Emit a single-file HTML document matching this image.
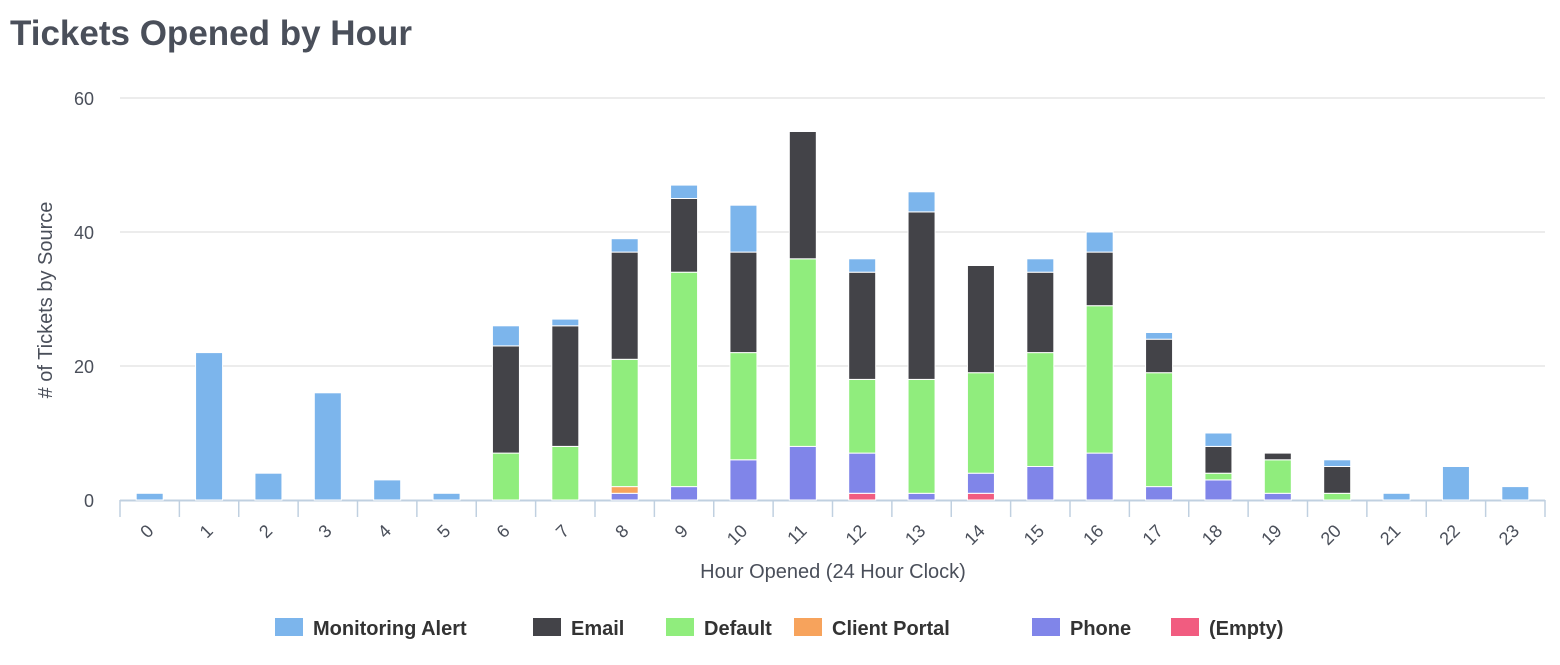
<!DOCTYPE html>
<html><head><style>
body{margin:0;background:#fff;width:1560px;height:660px;overflow:hidden;font-family:"Liberation Sans",sans-serif}
</style></head><body>
<svg id="c" width="1560" height="660" xmlns="http://www.w3.org/2000/svg">
<text x="10" y="45" font-size="35" font-weight="bold" fill="#4a4f5a" font-family="Liberation Sans, sans-serif">Tickets Opened by Hour</text>
</svg>
<script>
const s=document.getElementById('c'),NS='http://www.w3.org/2000/svg';
function el(t,a,txt){const e=document.createElementNS(NS,t);for(const k in a)e.setAttribute(k,a[k]);if(txt!==undefined)e.textContent=txt;s.appendChild(e);return e;}
const y0=500,u=6.7,x0=120,cw=59.375;
[20,40,60].forEach(v=>el('line',{x1:120,x2:1545,y1:y0-v*u,y2:y0-v*u,stroke:'#d8d8d8','stroke-width':1}));
[0,20,40,60].forEach(v=>el('text',{x:94,y:y0-v*u+7,'font-size':18,fill:'#4a4f5a','text-anchor':'end'},v));
el('line',{x1:120,x2:1545,y1:y0+0.5,y2:y0+0.5,stroke:'#c0d0e0','stroke-width':2});
for(let k=0;k<=24;k++){const x=x0+k*cw;el('line',{x1:x,x2:x,y1:y0,y2:y0+17,stroke:'#c0d0e0','stroke-width':1.5});}
const cols=['#f15c80','#8085e9','#f7a35c','#90ed7d','#434348','#7cb5ec'];
const d=[[0,0,0,0,0,1],[0,0,0,0,0,22],[0,0,0,0,0,4],[0,0,0,0,0,16],[0,0,0,0,0,3],[0,0,0,0,0,1],
[0,0,0,7,16,3],[0,0,0,8,18,1],[0,1,1,19,16,2],[0,2,0,32,11,2],[0,6,0,16,15,7],[0,8,0,28,19,0],
[1,6,0,11,16,2],[0,1,0,17,25,3],[1,3,0,15,16,0],[0,5,0,17,12,2],[0,7,0,22,8,3],[0,2,0,17,5,1],
[0,3,0,1,4,2],[0,1,0,5,1,0],[0,0,0,1,4,1],[0,0,0,0,0,1],[0,0,0,0,0,5],[0,0,0,0,0,2]];
d.forEach((r,i)=>{const cx=x0+(i+0.5)*cw;let acc=0;r.forEach((v,j)=>{if(!v)return;const yt=y0-(acc+v)*u,yb=y0-acc*u;
el('rect',{x:cx-13.5,y:yt,width:27,height:yb-yt,fill:cols[j],stroke:'#fff','stroke-width':1});acc+=v;});
el('text',{x:cx+5,y:532,'font-size':18,fill:'#4a4f5a','text-anchor':'end',transform:`rotate(-45 ${cx+5} 532)`},i);});
el('text',{x:833,y:578,'font-size':20,fill:'#4a4f5a','text-anchor':'middle'},'Hour Opened (24 Hour Clock)');
el('text',{x:52,y:300,'font-size':20,fill:'#4a4f5a','text-anchor':'middle',transform:'rotate(-90 52 300)'},'# of Tickets by Source');
const lg=[['Monitoring Alert','#7cb5ec',275],['Email','#434348',533],['Default','#90ed7d',666],['Client Portal','#f7a35c',794],['Phone','#8085e9',1032],['(Empty)','#f15c80',1171]];
lg.forEach(([t,c,x])=>{el('rect',{x:x,y:618,width:28,height:18,fill:c});el('text',{x:x+38,y:635,'font-size':20,'font-weight':'bold',fill:'#333'},t);});
</script>
</body></html>
